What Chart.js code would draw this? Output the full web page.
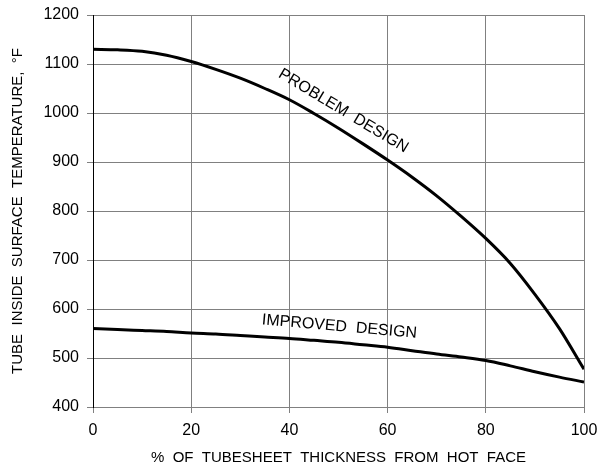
<!DOCTYPE html>
<html>
<head>
    <meta charset="utf-8">
    <title>Tubesheet Temperature</title>
    <script src="https://cdn.jsdelivr.net/npm/chart.js"></script>
    <style>
        html, body { margin:0; padding:0; background:#fff; }
        #wrap { width:599px; height:472px; }
    </style>
</head>
<body>
<div id="wrap"><canvas id="tempChart" width="599" height="472"></canvas></div>
<script>
// % of tubesheet thickness from hot face
const thickness = [0, 5, 10, 15, 20, 25, 30, 35, 40, 45, 50, 55, 60, 65, 70, 75, 80, 85, 90, 95, 100];
// tube inside surface temperature, °F
const problemDesign  = [1130, 1129, 1126, 1118, 1105, 1089, 1071, 1050, 1027, 999, 969, 937, 904, 869, 831, 789, 744, 693, 630, 560, 477];
const improvedDesign = [560, 558, 556, 554, 551, 549, 546, 543, 540, 536, 532, 527, 522, 515, 508, 502, 495, 484, 472, 461, 451];
const xTicks = [0, 20, 40, 60, 80, 100];
const yTicks = [400, 500, 600, 700, 800, 900, 1000, 1100, 1200];
// curve labels: text, x, y (data units), angle
const curveLabels = [
  {text:'PROBLEM  DESIGN', x:51, y:1004, angle:31},
  {text:'IMPROVED  DESIGN', x:50.2, y:564, angle:5}
];

const FONT = '"Liberation Sans", Arial, sans-serif';

const labelPlugin = {
  id:'curveLabels',
  afterDatasetsDraw(chart){
    const {ctx, scales:{x, y}} = chart;
    ctx.save();
    ctx.fillStyle = '#000';
    ctx.font = '16px ' + FONT;
    ctx.textAlign = 'center';
    ctx.textBaseline = 'middle';
    curveLabels.forEach(l => {
      ctx.save();
      ctx.translate(x.getPixelForValue(l.x), y.getPixelForValue(l.y));
      ctx.rotate(l.angle * Math.PI / 180);
      ctx.fillText(l.text, 0, 0);
      ctx.restore();
    });
    ctx.restore();
  }
};

const mkData = (ys) => thickness.map((t, i) => ({x:t, y:ys[i]}));

new Chart(document.getElementById('tempChart'), {
  type:'line',
  data:{
    datasets:[
      {label:'Problem design', data:mkData(problemDesign), borderColor:'#000', borderWidth:3, pointRadius:0, cubicInterpolationMode:'monotone', fill:false},
      {label:'Improved design', data:mkData(improvedDesign), borderColor:'#000', borderWidth:3, pointRadius:0, cubicInterpolationMode:'monotone', fill:false}
    ]
  },
  options:{
    responsive:false,
    animation:false,
    layout:{padding:{top:15, right:15, left:0, bottom:0}},
    plugins:{legend:{display:false}, tooltip:{enabled:false}},
    scales:{
      x:{
        type:'linear', min:0, max:100,
        afterBuildTicks(s){ s.ticks = xTicks.map(v => ({value:v})); },
        ticks:{color:'#000', font:{family:FONT, size:16}, padding:8, maxRotation:0, callback:v => String(v)},
        grid:{color:'#808080', lineWidth:1, tickLength:6, tickColor:'#808080'},
        border:{color:'#808080'},
        title:{display:true, text:'%  OF  TUBESHEET  THICKNESS  FROM  HOT  FACE', color:'#000', font:{family:FONT, size:15}, padding:{top:0, bottom:5}},
        afterFit(s){ s.height = 65; s.paddingLeft = 0; s.paddingRight = 0; }
      },
      y:{
        type:'linear', min:400, max:1200,
        afterBuildTicks(s){ s.ticks = yTicks.map(v => ({value:v})); },
        ticks:{color:'#000', font:{family:FONT, size:16}, padding:8, callback:v => String(v)},
        grid:{color:'#808080', lineWidth:1, tickLength:6, tickColor:'#808080'},
        border:{color:'#000'},
        title:{display:true, text:'TUBE  INSIDE  SURFACE  TEMPERATURE,  °F', color:'#000', font:{family:FONT, size:15}, padding:{top:9, bottom:0}},
        afterFit(s){ s.width = 93; s.paddingTop = 0; s.paddingBottom = 0; }
      }
    }
  },
  plugins:[labelPlugin]
});
</script>
</body>
</html>
